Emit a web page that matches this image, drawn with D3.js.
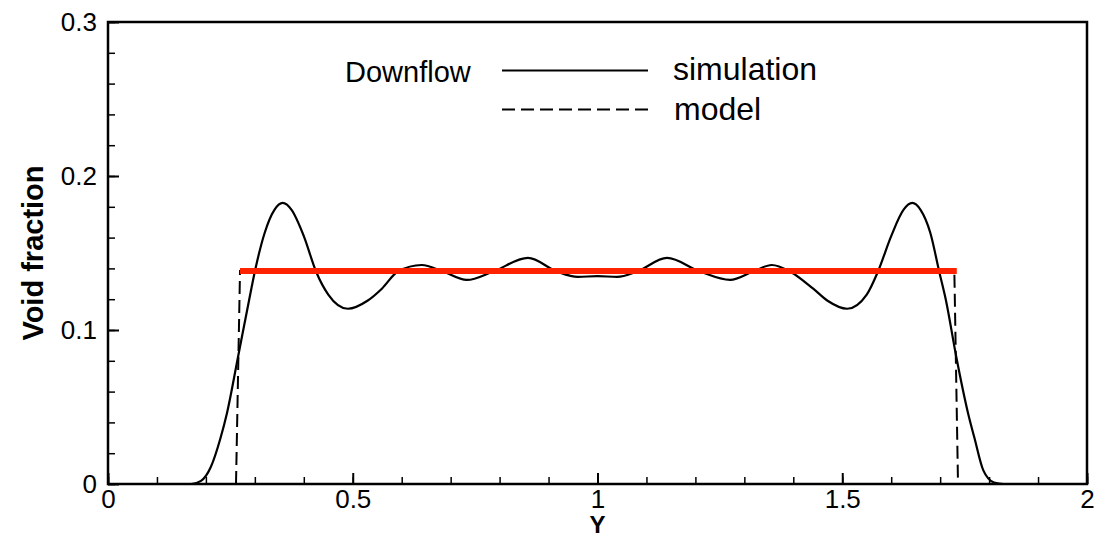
<!DOCTYPE html>
<html>
<head>
<meta charset="utf-8">
<script src="https://cdn.jsdelivr.net/npm/d3@7"></script>
<style>
  html, body { margin: 0; padding: 0; background: #fff; }
  svg { display: block; }
  text { font-family: "Liberation Sans", Arial, Helvetica, sans-serif; fill: #000; }
</style>
</head>
<body>
<svg id="chart" width="1102" height="535"></svg>
<script>
// Void fraction profile across the channel (downflow case)
const simY    = [0, 0.17, 0.19, 0.21, 0.23, 0.243, 0.2656, 0.288, 0.30, 0.32, 0.34, 0.357, 0.375, 0.40, 0.425, 0.45, 0.49, 0.53, 0.56, 0.592, 0.641, 0.684, 0.733, 0.787, 0.858, 0.917, 0.96, 1.0, 1.04, 1.081, 1.142, 1.209, 1.271, 1.318, 1.356, 1.393, 1.44, 1.47, 1.51, 1.55, 1.573, 1.60, 1.625, 1.643, 1.66, 1.68, 1.698, 1.712, 1.733, 1.757, 1.77, 1.788, 1.81, 1.83, 2];
const simVoid = [0, 0, 0.002, 0.011, 0.030, 0.046, 0.0825, 0.119, 0.138, 0.163, 0.178, 0.1825, 0.178, 0.161, 0.138, 0.123, 0.1138, 0.119, 0.127, 0.138, 0.1422, 0.138, 0.1325, 0.138, 0.1468, 0.138, 0.1345, 0.135, 0.1345, 0.138, 0.1468, 0.138, 0.1325, 0.138, 0.1422, 0.138, 0.127, 0.119, 0.1138, 0.123, 0.138, 0.161, 0.178, 0.1825, 0.178, 0.163, 0.138, 0.119, 0.0825, 0.046, 0.030, 0.009, 0.001, 0, 0];

const modelY    = [0.2615, 0.2697, 1.729, 1.7365];
const modelVoid = [0, 0.1383, 0.1383, 0];

const meanY    = [0.2697, 1.734];
const meanVoid = [0.1383, 0.1383];

const xTicks = [0, 0.5, 1, 1.5, 2];
const yTicks = [0, 0.1, 0.2, 0.3];
const xTickLabels = ["0", "0.5", "1", "1.5", "2"];
const yTickLabels = ["0", "0.1", "0.2", "0.3"];

const legendTitle = "Downflow";
const seriesNames = ["simulation", "model"];

const svg = d3.select("#chart");
const L = 108, R = 1087, T = 22, B = 484;

const x = d3.scaleLinear().domain([0, 2]).range([L, R]);
const y = d3.scaleLinear().domain([0, 0.3]).range([B, T]);

// minor ticks
const xMinor = d3.range(0, 21).map(i => i / 10);
const yMinor = d3.range(0, 16).map(i => i / 50);

svg.append("g").attr("transform", `translate(0,${B})`)
  .call(d3.axisBottom(x).tickValues(xMinor).tickSize(-7).tickFormat(""))
  .call(g => g.select(".domain").remove())
  .call(g => g.selectAll("line").attr("stroke-width", 1.5));
svg.append("g").attr("transform", `translate(${L},0)`)
  .call(d3.axisLeft(y).tickValues(yMinor).tickSize(-7).tickFormat(""))
  .call(g => g.select(".domain").remove())
  .call(g => g.selectAll("line").attr("stroke-width", 1.5));

// major ticks and labels
svg.append("g").attr("transform", `translate(0,${B})`)
  .call(d3.axisBottom(x).tickValues(xTicks).tickSize(-11).tickPadding(6)
        .tickFormat((d, i) => xTickLabels[i]))
  .call(g => g.select(".domain").remove())
  .call(g => g.selectAll("line").attr("stroke-width", 2))
  .call(g => g.selectAll("text").attr("font-size", 26)
        .style("font-family", '"Liberation Sans", Arial, sans-serif'));
svg.append("g").attr("transform", `translate(${L},0)`)
  .call(d3.axisLeft(y).tickValues(yTicks).tickSize(-11).tickPadding(11)
        .tickFormat((d, i) => yTickLabels[i]))
  .call(g => g.select(".domain").remove())
  .call(g => g.selectAll("line").attr("stroke-width", 2))
  .call(g => g.selectAll("text").attr("font-size", 26)
        .style("font-family", '"Liberation Sans", Arial, sans-serif'));

// frame
svg.append("rect")
  .attr("x", L).attr("y", T).attr("width", R - L).attr("height", B - T)
  .attr("fill", "none").attr("stroke", "#000").attr("stroke-width", 2.5);

// simulation profile
const simLine = d3.line().x(d => x(d[0])).y(d => y(d[1])).curve(d3.curveMonotoneX);
svg.append("path")
  .datum(d3.zip(simY, simVoid))
  .attr("d", simLine)
  .attr("fill", "none").attr("stroke", "#000").attr("stroke-width", 2.2);

// model profile (dashed)
const straight = d3.line().x(d => x(d[0])).y(d => y(d[1]));
svg.append("path")
  .datum(d3.zip(modelY, modelVoid))
  .attr("d", straight)
  .attr("fill", "none").attr("stroke", "#000").attr("stroke-width", 2)
  .attr("stroke-dasharray", "13,6");

// mean level
svg.append("path")
  .datum(d3.zip(meanY, meanVoid))
  .attr("d", straight)
  .attr("fill", "none").attr("stroke", "#ff2200").attr("stroke-width", 6);

// legend
svg.append("text").attr("x", 345).attr("y", 82).attr("font-size", 29).text(legendTitle);
svg.append("line").attr("x1", 502).attr("x2", 648).attr("y1", 70.5).attr("y2", 70.5)
  .attr("stroke", "#000").attr("stroke-width", 2);
svg.append("line").attr("x1", 502).attr("x2", 648).attr("y1", 109.5).attr("y2", 109.5)
  .attr("stroke", "#000").attr("stroke-width", 2).attr("stroke-dasharray", "13,6");
svg.append("text").attr("x", 673).attr("y", 80).attr("font-size", 32).text(seriesNames[0]);
svg.append("text").attr("x", 674).attr("y", 119.5).attr("font-size", 32).text(seriesNames[1]);

// axis titles
svg.append("text").attr("x", (L + R) / 2).attr("y", 533)
  .attr("text-anchor", "middle").attr("font-size", 24).attr("font-weight", "bold").text("Y");
svg.append("text")
  .attr("transform", `translate(43,${(T + B) / 2}) rotate(-90)`)
  .attr("text-anchor", "middle").attr("font-size", 29).attr("font-weight", "bold")
  .text("Void fraction");
</script>
</body>
</html>
